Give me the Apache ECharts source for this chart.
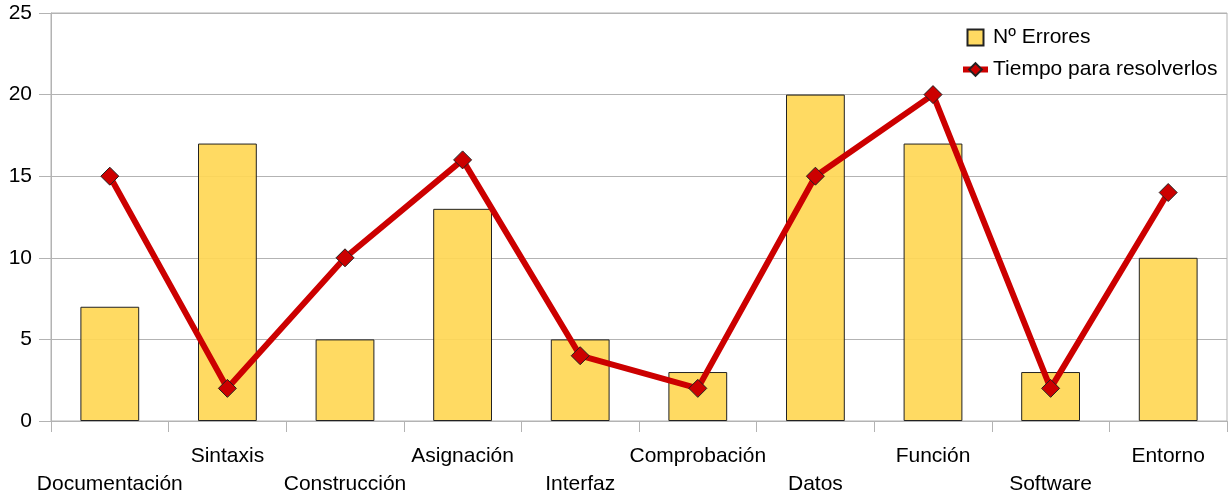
<!DOCTYPE html>
<html>
<head>
<meta charset="utf-8">
<script src="https://cdn.jsdelivr.net/npm/echarts@6/dist/echarts.min.js"></script>
<style>
  html, body { margin: 0; padding: 0; background: #fff; }
  #chart { width: 1229px; height: 494px; }
</style>
</head>
<body>
<div id="chart"></div>
<script>
// Error categories along the x axis
const categories = ['Documentación', 'Sintaxis', 'Construcción', 'Asignación', 'Interfaz',
                    'Comprobación', 'Datos', 'Función', 'Software', 'Entorno'];
// Number of errors per category (bars)
const errorCounts = [7, 17, 5, 13, 5, 3, 20, 17, 3, 10];
// Time needed to fix them (line)
const fixTimes = [15, 2, 10, 16, 4, 2, 15, 20, 2, 14];
// Value axis ticks
const yTicks = [0, 5, 10, 15, 20, 25];

const FONT = "'Liberation Sans', Arial, sans-serif";
const GRID_GRAY = '#b3b3b3';
const LINE_RED = '#cc0000';

const chart = echarts.init(document.getElementById('chart'), null, { renderer: 'canvas' });

chart.setOption({
  animation: false,
  backgroundColor: '#ffffff',
  textStyle: { fontFamily: FONT },
  grid: {
    left: 51, right: 2, top: 13, bottom: 73,
    outerBoundsMode: 'none',
    containLabel: false,
    show: true, borderColor: GRID_GRAY, borderWidth: 1
  },
  legend: {
    orient: 'vertical',
    left: 960,
    top: 27,
    padding: 0,
    itemWidth: 25,
    itemHeight: 16,
    itemGap: 11,
    textStyle: { fontFamily: FONT, fontSize: 21, color: '#000' },
    data: [
      { name: 'Nº Errores', icon: 'path://M0,0H16V16H0Z' },
      { name: 'Tiempo para resolverlos', lineStyle: { width: 6, color: LINE_RED } }
    ]
  },
  xAxis: {
    type: 'category',
    data: categories,
    boundaryGap: true,
    axisLine: { show: true, lineStyle: { color: GRID_GRAY, width: 1 } },
    axisTick: { show: true, interval: 0, length: 11, lineStyle: { color: GRID_GRAY } },
    splitLine: { show: false },
    axisLabel: {
      interval: 0,
      hideOverlap: false,
      margin: 21,
      fontFamily: FONT,
      fontSize: 21,
      lineHeight: 28,
      color: '#000',
      // alternate labels between two rows
      formatter: (v, i) => (i % 2 === 0 ? '\n' + v : v)
    }
  },
  yAxis: {
    type: 'value',
    min: yTicks[0],
    max: yTicks[yTicks.length - 1],
    interval: yTicks[1] - yTicks[0],
    axisLine: { show: true, lineStyle: { color: GRID_GRAY, width: 1 } },
    axisTick: { show: true, length: 12, lineStyle: { color: GRID_GRAY } },
    splitLine: { show: true, lineStyle: { color: GRID_GRAY, width: 1 } },
    axisLabel: { margin: 19, fontFamily: FONT, fontSize: 21, color: '#000' }
  },
  series: [
    {
      name: 'Nº Errores',
      type: 'bar',
      data: errorCounts,
      barWidth: '50%',
      itemStyle: {
        color: 'rgba(255,215,85,0.92)',
        borderColor: '#222',
        borderWidth: 1
      }
    },
    {
      name: 'Tiempo para resolverlos',
      type: 'line',
      data: fixTimes,
      symbol: 'diamond',
      symbolSize: 18,
      lineStyle: { color: LINE_RED, width: 6 },
      itemStyle: { color: LINE_RED, borderColor: '#222', borderWidth: 1 },
      z: 3
    }
  ]
});
</script>
</body>
</html>
